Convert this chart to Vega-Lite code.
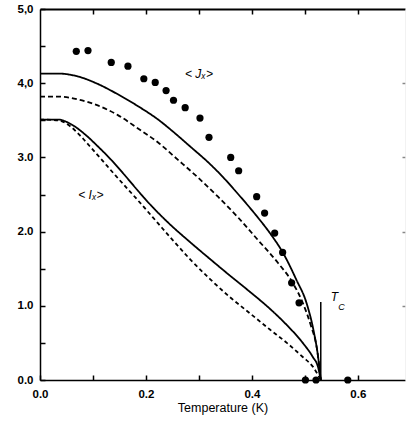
{
  "$schema": "https://vega.github.io/schema/vega-lite/v6.json",
  "autosize": {"type": "none"},
  "padding": {"left": 40, "top": 9, "right": 2, "bottom": 45},
  "width": 365,
  "height": 371,
  "background": "white",
  "config": {
    "view": {"stroke": null},
    "font": "Liberation Sans",
    "axis": {"grid": false, "domainColor": "black", "tickColor": "black", "domainWidth": 1.5, "labelColor": "black", "titleColor": "black"}
  },
  "datasets": {
    "curves": [
      {"s": "Jsolid", "t": 0.0, "v": 4.13}, {"s": "Jsolid", "t": 0.034, "v": 4.13}, {"s": "Jsolid", "t": 0.072, "v": 4.09},
      {"s": "Jsolid", "t": 0.109, "v": 3.99}, {"s": "Jsolid", "t": 0.147, "v": 3.85}, {"s": "Jsolid", "t": 0.185, "v": 3.69},
      {"s": "Jsolid", "t": 0.223, "v": 3.51}, {"s": "Jsolid", "t": 0.254, "v": 3.33}, {"s": "Jsolid", "t": 0.283, "v": 3.15},
      {"s": "Jsolid", "t": 0.321, "v": 2.91}, {"s": "Jsolid", "t": 0.346, "v": 2.73}, {"s": "Jsolid", "t": 0.371, "v": 2.53},
      {"s": "Jsolid", "t": 0.409, "v": 2.21}, {"s": "Jsolid", "t": 0.434, "v": 1.98}, {"s": "Jsolid", "t": 0.459, "v": 1.71},
      {"s": "Jsolid", "t": 0.484, "v": 1.35}, {"s": "Jsolid", "t": 0.503, "v": 1.04}, {"s": "Jsolid", "t": 0.516, "v": 0.68},
      {"s": "Jsolid", "t": 0.525, "v": 0.31}, {"s": "Jsolid", "t": 0.53, "v": 0.0},
      {"s": "Jdash", "t": 0.0, "v": 3.82}, {"s": "Jdash", "t": 0.034, "v": 3.82}, {"s": "Jdash", "t": 0.072, "v": 3.78},
      {"s": "Jdash", "t": 0.109, "v": 3.70}, {"s": "Jdash", "t": 0.147, "v": 3.57}, {"s": "Jdash", "t": 0.185, "v": 3.39},
      {"s": "Jdash", "t": 0.223, "v": 3.20}, {"s": "Jdash", "t": 0.26, "v": 2.97}, {"s": "Jdash", "t": 0.298, "v": 2.73},
      {"s": "Jdash", "t": 0.336, "v": 2.47}, {"s": "Jdash", "t": 0.374, "v": 2.19}, {"s": "Jdash", "t": 0.411, "v": 1.89},
      {"s": "Jdash", "t": 0.449, "v": 1.58}, {"s": "Jdash", "t": 0.477, "v": 1.31}, {"s": "Jdash", "t": 0.496, "v": 1.04},
      {"s": "Jdash", "t": 0.511, "v": 0.74}, {"s": "Jdash", "t": 0.523, "v": 0.41}, {"s": "Jdash", "t": 0.53, "v": 0.0},
      {"s": "Isolid", "t": 0.0, "v": 3.51}, {"s": "Isolid", "t": 0.034, "v": 3.51}, {"s": "Isolid", "t": 0.058, "v": 3.45},
      {"s": "Isolid", "t": 0.085, "v": 3.31}, {"s": "Isolid", "t": 0.109, "v": 3.15}, {"s": "Isolid", "t": 0.134, "v": 2.97},
      {"s": "Isolid", "t": 0.16, "v": 2.76}, {"s": "Isolid", "t": 0.185, "v": 2.55}, {"s": "Isolid", "t": 0.21, "v": 2.35},
      {"s": "Isolid", "t": 0.245, "v": 2.10}, {"s": "Isolid", "t": 0.283, "v": 1.86}, {"s": "Isolid", "t": 0.321, "v": 1.63},
      {"s": "Isolid", "t": 0.358, "v": 1.41}, {"s": "Isolid", "t": 0.396, "v": 1.19}, {"s": "Isolid", "t": 0.434, "v": 0.96},
      {"s": "Isolid", "t": 0.466, "v": 0.74}, {"s": "Isolid", "t": 0.496, "v": 0.50}, {"s": "Isolid", "t": 0.515, "v": 0.31},
      {"s": "Isolid", "t": 0.525, "v": 0.17}, {"s": "Isolid", "t": 0.53, "v": 0.0},
      {"s": "Idash", "t": 0.0, "v": 3.51}, {"s": "Idash", "t": 0.034, "v": 3.50}, {"s": "Idash", "t": 0.057, "v": 3.42},
      {"s": "Idash", "t": 0.075, "v": 3.30}, {"s": "Idash", "t": 0.094, "v": 3.15}, {"s": "Idash", "t": 0.115, "v": 2.98},
      {"s": "Idash", "t": 0.142, "v": 2.76}, {"s": "Idash", "t": 0.185, "v": 2.42}, {"s": "Idash", "t": 0.223, "v": 2.11},
      {"s": "Idash", "t": 0.245, "v": 1.93}, {"s": "Idash", "t": 0.283, "v": 1.63}, {"s": "Idash", "t": 0.321, "v": 1.36},
      {"s": "Idash", "t": 0.358, "v": 1.12}, {"s": "Idash", "t": 0.396, "v": 0.90}, {"s": "Idash", "t": 0.434, "v": 0.68},
      {"s": "Idash", "t": 0.466, "v": 0.50}, {"s": "Idash", "t": 0.496, "v": 0.31}, {"s": "Idash", "t": 0.515, "v": 0.18},
      {"s": "Idash", "t": 0.53, "v": 0.0}
    ],
    "dots": [
      {"t": 0.0685, "v": 4.43}, {"t": 0.0906, "v": 4.44}, {"t": 0.1345, "v": 4.28}, {"t": 0.166, "v": 4.23},
      {"t": 0.196, "v": 4.06}, {"t": 0.2175, "v": 4.01}, {"t": 0.238, "v": 3.90}, {"t": 0.252, "v": 3.77},
      {"t": 0.274, "v": 3.67}, {"t": 0.302, "v": 3.53}, {"t": 0.319, "v": 3.27}, {"t": 0.36, "v": 3.00},
      {"t": 0.375, "v": 2.82}, {"t": 0.409, "v": 2.47}, {"t": 0.424, "v": 2.25}, {"t": 0.443, "v": 1.98},
      {"t": 0.458, "v": 1.72}, {"t": 0.475, "v": 1.31}, {"t": 0.489, "v": 1.04}, {"t": 0.501, "v": 0.0},
      {"t": 0.521, "v": 0.0}, {"t": 0.581, "v": 0.0}
    ],
    "labels": [
      {"t": 0.30, "v": 4.12, "txt": "< Jₓ>"},
      {"t": 0.096, "v": 2.50, "txt": "< Iₓ>"},
      {"t": 0.556, "v": 1.12, "txt": "T"}
    ],
    "sub": [
      {"t": 0.569, "v": 0.98, "txt": "C"}
    ],
    "tc": [
      {"t": 0.53, "v0": 0, "v1": 1.05}
    ]
  },
  "layer": [
    {
      "data": {"name": "curves"},
      "mark": {"type": "line", "interpolate": "monotone", "strokeWidth": 1.8, "color": "black"},
      "encoding": {
        "x": {"field": "t", "type": "quantitative", "scale": {"domain": [0, 0.689], "nice": false, "zero": false},
          "axis": {"orient": "bottom", "values": [0, 0.1, 0.2, 0.3, 0.4, 0.5, 0.6], "tickSize": -5, "tickWidth": 1.5,
            "labelExpr": "round(datum.value*10) % 2 == 0 ? format(datum.value, '.1f') : ''",
            "labelFontSize": 11.5, "labelFontWeight": "bold", "labelPadding": 13, "labelFlush": false,
            "title": "Temperature  (K)", "titleFontSize": 12.5, "titleFontWeight": "normal", "titlePadding": 2}},
        "y": {"field": "v", "type": "quantitative", "scale": {"domain": [0, 5], "nice": false},
          "axis": {"orient": "left", "values": [0, 0.5, 1, 1.5, 2, 2.5, 3, 3.5, 4, 4.5, 5], "tickSize": -5, "tickWidth": 1.5,
            "labelExpr": "datum.value % 1 != 0 ? '' : (datum.value >= 4 ? replace(format(datum.value, '.1f'), '.', ',') : format(datum.value, '.1f'))",
            "labelFontSize": 11.5, "labelFontWeight": "bold", "labelPadding": 12, "labelFlush": false, "title": null}},
        "detail": {"field": "s"},
        "strokeDash": {"field": "s", "type": "nominal", "legend": null,
          "scale": {"domain": ["Jsolid", "Jdash", "Isolid", "Idash"], "range": [[1, 0], [5, 3], [1, 0], [4, 3]]}}
      }
    },
    {
      "data": {"name": "dots"},
      "mark": {"type": "circle", "size": 52, "color": "black", "opacity": 1},
      "encoding": {
        "x": {"field": "t", "type": "quantitative",
          "axis": {"orient": "top", "values": [0.1, 0.2, 0.3, 0.4, 0.5, 0.6], "tickSize": -5, "tickWidth": 1.5, "labels": false, "title": null, "domainWidth": 2}},
        "y": {"field": "v", "type": "quantitative",
          "axis": {"orient": "right", "values": [1, 2, 3, 4], "tickSize": -3, "tickWidth": 1.5, "labels": false, "title": null, "domainColor": "#e4e4e4", "domainWidth": 0.5, "tickColor": "#888888"}}
      }
    },
    {
      "data": {"name": "tc"},
      "mark": {"type": "rule", "color": "black", "strokeWidth": 1.5},
      "encoding": {
        "x": {"field": "t", "type": "quantitative", "axis": null},
        "y": {"field": "v0", "type": "quantitative", "axis": null},
        "y2": {"field": "v1"}
      }
    },
    {
      "data": {"name": "labels"},
      "mark": {"type": "text", "font": "Liberation Sans", "fontStyle": "italic", "fontSize": 12, "color": "black"},
      "encoding": {
        "x": {"field": "t", "type": "quantitative", "axis": null},
        "y": {"field": "v", "type": "quantitative", "axis": null},
        "text": {"field": "txt"}
      }
    },
    {
      "data": {"name": "sub"},
      "mark": {"type": "text", "font": "Liberation Sans", "fontStyle": "italic", "fontSize": 9, "color": "black"},
      "encoding": {
        "x": {"field": "t", "type": "quantitative", "axis": null},
        "y": {"field": "v", "type": "quantitative", "axis": null},
        "text": {"field": "txt"}
      }
    }
  ],
  "resolve": {"axis": {"x": "independent", "y": "independent"}}
}
